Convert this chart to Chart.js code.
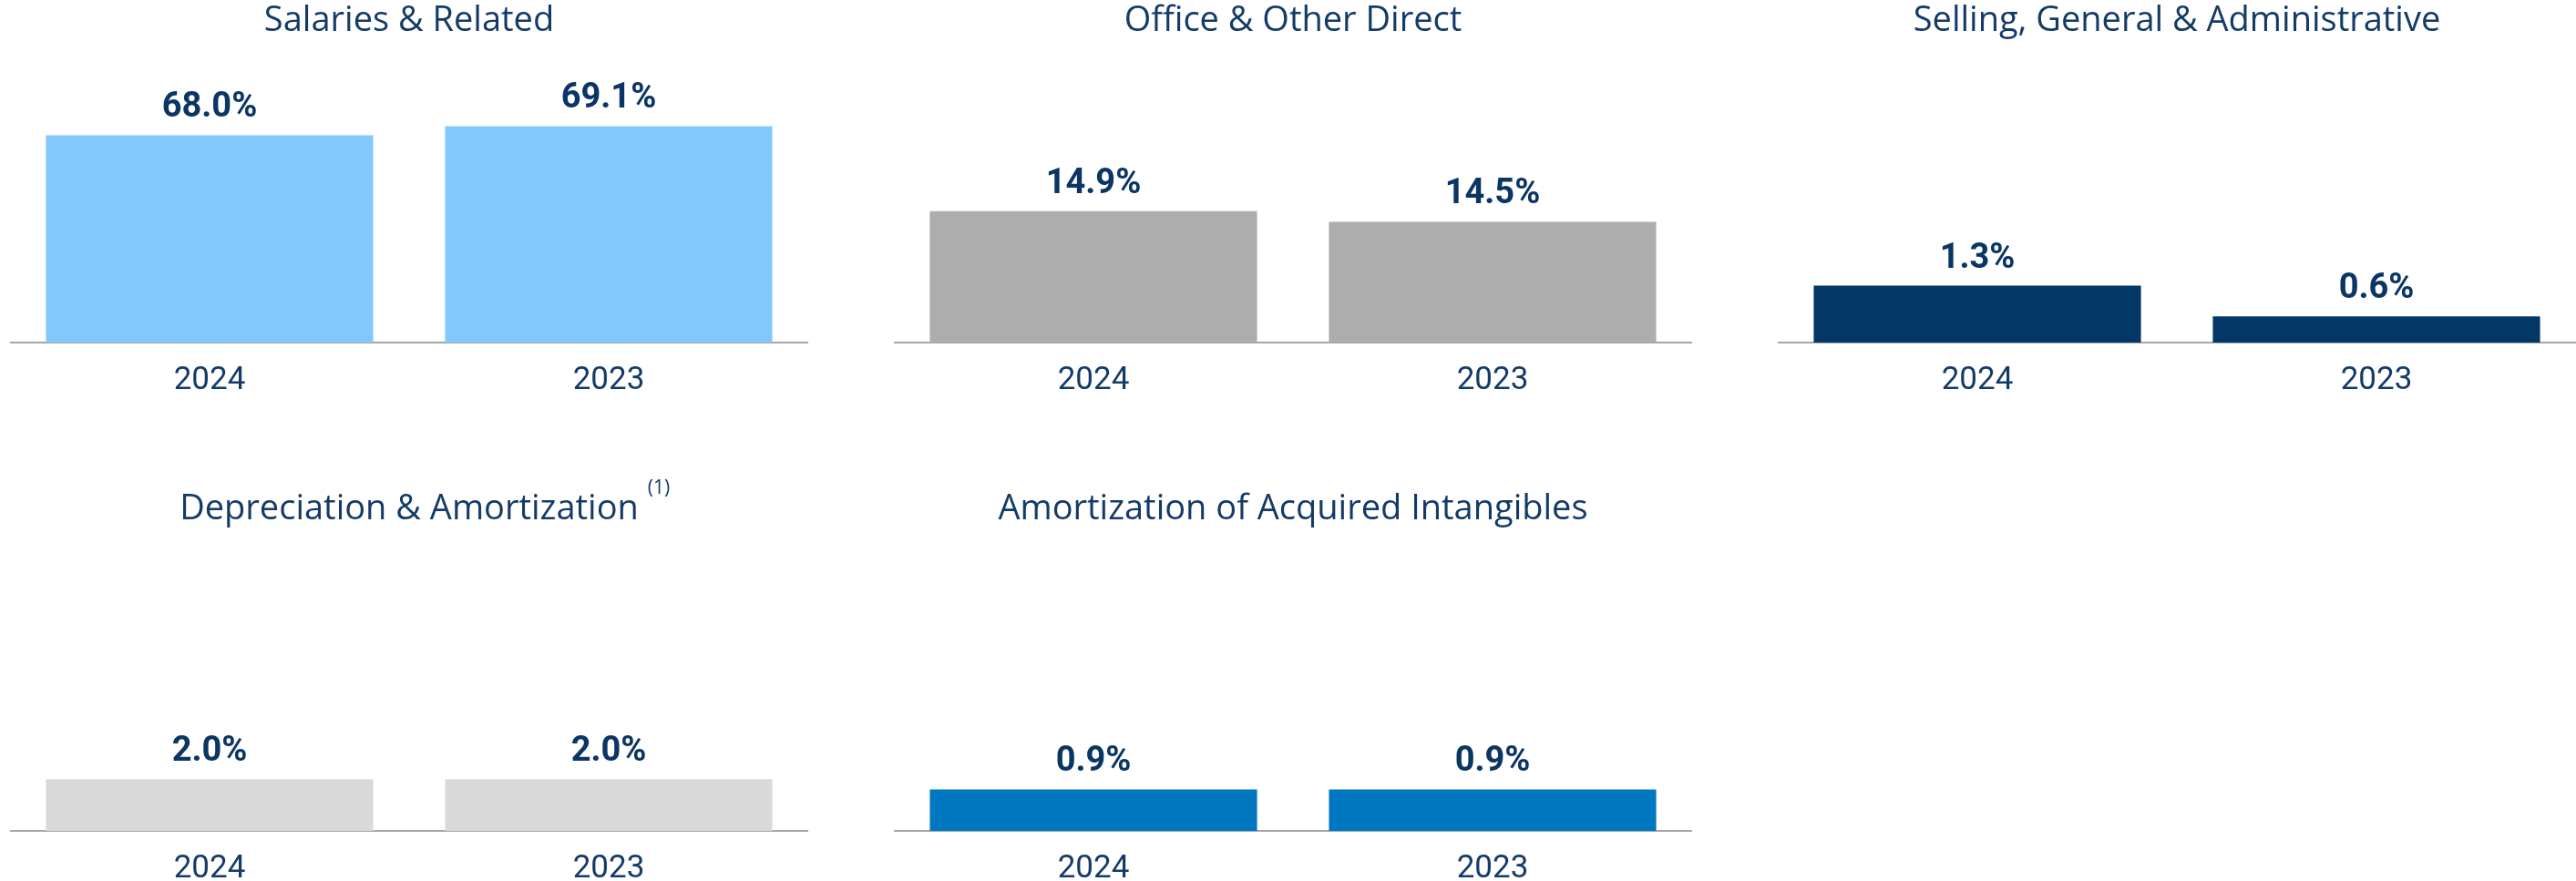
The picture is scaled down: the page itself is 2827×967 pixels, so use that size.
<!DOCTYPE html>
<html>
<head>
<meta charset="utf-8">
<script src="https://cdn.jsdelivr.net/npm/chart.js@4.4.1/dist/chart.umd.min.js"></script>
<style>
  html, body { margin: 0; padding: 0; background: #fff; }
  body { width: 2827px; height: 967px; position: relative; overflow: hidden; }
  .panel { position: absolute; width: 876px; height: 472px; }
</style>
</head>
<body>
<div class="panel" style="left:11px;top:-12px"><canvas id="salaries" width="876" height="472"></canvas></div>
<div class="panel" style="left:981px;top:-12px"><canvas id="office" width="876" height="472"></canvas></div>
<div class="panel" style="left:1951px;top:-12px"><canvas id="sga" width="876" height="472"></canvas></div>
<div class="panel" style="left:11px;top:524px"><canvas id="depreciation" width="876" height="472"></canvas></div>
<div class="panel" style="left:981px;top:524px"><canvas id="amortization" width="876" height="472"></canvas></div>
<script>
// data
const years = ['2024', '2023'];
const salaries = [68.0, 69.1];
const office = [14.9, 14.5];
const sga = [1.3, 0.6];
const depreciation = [2.0, 2.0];
const amortization = [0.9, 0.9];

const titles = [
    'Salaries & Related',
    'Office & Other Direct',
    'Selling, General & Administrative',
    'Depreciation & Amortization',
    'Amortization of Acquired Intangibles'
];

const navy = '#143b68';
const labelNavy = '#0b3564';

// draws the % above each bar
const valueLabels = {
    id: 'valueLabels',
    afterDatasetsDraw(chart) {
        const { ctx } = chart;
        const meta = chart.getDatasetMeta(0);
        const values = chart.data.datasets[0].data;
        ctx.save();
        ctx.font = 'bold 38px Roboto';
        ctx.fillStyle = labelNavy;
        ctx.textAlign = 'center';
        ctx.textBaseline = 'alphabetic';
        meta.data.forEach((bar, i) => {
            ctx.fillText(values[i].toFixed(1) + '%', bar.x, bar.y - 20);
        });
        ctx.restore();
    }
};

// footnote marker after a title
const footnote = {
    id: 'footnote',
    afterDraw(chart, args, opts) {
        if (!opts.text) return;
        const { ctx } = chart;
        const t = chart.options.plugins.title;
        ctx.save();
        ctx.font = t.font.size + 'px "Open Sans"';
        const w = ctx.measureText(t.text).width;
        ctx.font = '21px "Open Sans"';
        ctx.fillStyle = navy;
        ctx.textAlign = 'left';
        ctx.textBaseline = 'alphabetic';
        ctx.fillText(opts.text, chart.width / 2 + w / 2 + 10, chart.titleBlock.top + 6);
        ctx.restore();
    }
};

function makeChart(id, title, values, color, min, max, note) {
    return new Chart(document.getElementById(id), {
        type: 'bar',
        data: {
            labels: years,
            datasets: [{
                data: values,
                backgroundColor: color,
                borderWidth: 0,
                categoryPercentage: 1,
                barPercentage: 0.82
            }]
        },
        options: {
            responsive: false,
            animation: false,
            layout: { padding: { top: 12, left: 0, right: 0, bottom: 0 } },
            plugins: {
                legend: { display: false },
                tooltip: { enabled: false },
                title: {
                    display: true,
                    text: title,
                    color: navy,
                    font: { family: 'Open Sans', size: 38, weight: 'normal', lineHeight: 1 },
                    padding: { top: 4, bottom: 10 }
                },
                footnote: { text: note }
            },
            scales: {
                x: {
                    grid: { display: false, drawTicks: false },
                    border: { display: true, color: '#a6a6a6', width: 2 },
                    ticks: {
                        color: navy,
                        padding: 21,
                        font: { family: 'Roboto', size: 35 }
                    }
                },
                y: {
                    display: false,
                    min: min,
                    max: max
                }
            }
        },
        plugins: [valueLabels, footnote]
    });
}

makeChart('salaries', titles[0], salaries, '#83c8fc', 43, 78.6);
makeChart('office', titles[1], office, '#adadad', 10, 21.0);
makeChart('sga', titles[2], sga, '#033866', 0, 6.75);
makeChart('depreciation', titles[3], depreciation, '#d9d9d9', 0, 11.4, '(1)');
makeChart('amortization', titles[4], amortization, '#0078c1', 0, 6.4);
</script>
</body>
</html>
